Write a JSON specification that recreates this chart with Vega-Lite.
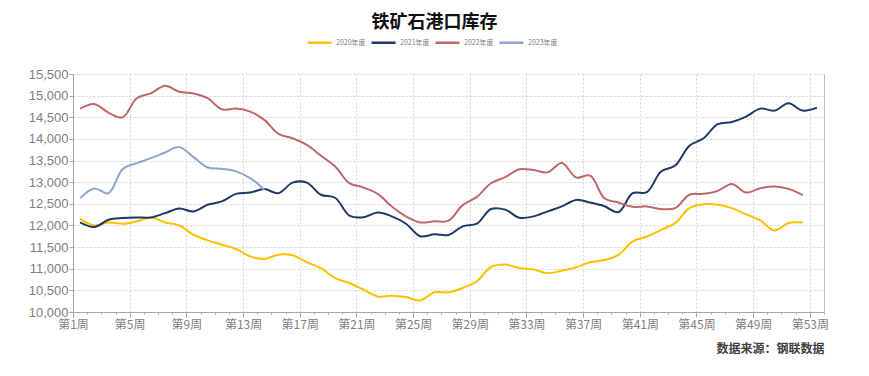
{
  "$schema": "https://vega.github.io/schema/vega-lite/v6.json",
  "width": 751,
  "height": 238,
  "autosize": {"type": "none"},
  "padding": {"left": 73, "top": 74, "right": 45, "bottom": 64},
  "background": "white",
  "title": {"text": "铁矿石港口库存", "font": "Noto Sans CJK SC", "fontSize": 18, "fontWeight": "bold", "color": "#111111", "anchor": "middle", "dx": -14, "offset": -3},
  "datasets": {
    "inv": [
      {"week":1,"series":"2020年度","value":12150},{"week":2,"series":"2020年度","value":12000},{"week":3,"series":"2020年度","value":12070},{"week":4,"series":"2020年度","value":12040},{"week":5,"series":"2020年度","value":12095},{"week":6,"series":"2020年度","value":12185},{"week":7,"series":"2020年度","value":12070},{"week":8,"series":"2020年度","value":12000},{"week":9,"series":"2020年度","value":11785},{"week":10,"series":"2020年度","value":11655},{"week":11,"series":"2020年度","value":11555},{"week":12,"series":"2020年度","value":11455},{"week":13,"series":"2020年度","value":11285},{"week":14,"series":"2020年度","value":11225},{"week":15,"series":"2020年度","value":11325},{"week":16,"series":"2020年度","value":11310},{"week":17,"series":"2020年度","value":11150},{"week":18,"series":"2020年度","value":11010},{"week":19,"series":"2020年度","value":10785},{"week":20,"series":"2020年度","value":10670},{"week":21,"series":"2020年度","value":10515},{"week":22,"series":"2020年度","value":10360},{"week":23,"series":"2020年度","value":10375},{"week":24,"series":"2020年度","value":10345},{"week":25,"series":"2020年度","value":10265},{"week":26,"series":"2020年度","value":10455},{"week":27,"series":"2020年度","value":10455},{"week":28,"series":"2020年度","value":10555},{"week":29,"series":"2020年度","value":10710},{"week":30,"series":"2020年度","value":11040},{"week":31,"series":"2020年度","value":11095},{"week":32,"series":"2020年度","value":11015},{"week":33,"series":"2020年度","value":10980},{"week":34,"series":"2020年度","value":10895},{"week":35,"series":"2020年度","value":10960},{"week":36,"series":"2020年度","value":11030},{"week":37,"series":"2020年度","value":11150},{"week":38,"series":"2020年度","value":11200},{"week":39,"series":"2020年度","value":11320},{"week":40,"series":"2020年度","value":11630},{"week":41,"series":"2020年度","value":11745},{"week":42,"series":"2020年度","value":11900},{"week":43,"series":"2020年度","value":12055},{"week":44,"series":"2020年度","value":12400},{"week":45,"series":"2020年度","value":12490},{"week":46,"series":"2020年度","value":12480},{"week":47,"series":"2020年度","value":12400},{"week":48,"series":"2020年度","value":12255},{"week":49,"series":"2020年度","value":12115},{"week":50,"series":"2020年度","value":11885},{"week":51,"series":"2020年度","value":12055},{"week":52,"series":"2020年度","value":12070},
      {"week":1,"series":"2021年度","value":12070},{"week":2,"series":"2021年度","value":11963},{"week":3,"series":"2021年度","value":12130},{"week":4,"series":"2021年度","value":12170},{"week":5,"series":"2021年度","value":12185},{"week":6,"series":"2021年度","value":12185},{"week":7,"series":"2021年度","value":12285},{"week":8,"series":"2021年度","value":12393},{"week":9,"series":"2021年度","value":12325},{"week":10,"series":"2021年度","value":12478},{"week":11,"series":"2021年度","value":12555},{"week":12,"series":"2021年度","value":12730},{"week":13,"series":"2021年度","value":12760},{"week":14,"series":"2021年度","value":12840},{"week":15,"series":"2021年度","value":12745},{"week":16,"series":"2021年度","value":12990},{"week":17,"series":"2021年度","value":12990},{"week":18,"series":"2021年度","value":12710},{"week":19,"series":"2021年度","value":12640},{"week":20,"series":"2021年度","value":12230},{"week":21,"series":"2021年度","value":12190},{"week":22,"series":"2021年度","value":12300},{"week":23,"series":"2021年度","value":12210},{"week":24,"series":"2021年度","value":12040},{"week":25,"series":"2021年度","value":11750},{"week":26,"series":"2021年度","value":11795},{"week":27,"series":"2021年度","value":11780},{"week":28,"series":"2021年度","value":11980},{"week":29,"series":"2021年度","value":12040},{"week":30,"series":"2021年度","value":12380},{"week":31,"series":"2021年度","value":12365},{"week":32,"series":"2021年度","value":12180},{"week":33,"series":"2021年度","value":12210},{"week":34,"series":"2021年度","value":12325},{"week":35,"series":"2021年度","value":12440},{"week":36,"series":"2021年度","value":12590},{"week":37,"series":"2021年度","value":12530},{"week":38,"series":"2021年度","value":12445},{"week":39,"series":"2021年度","value":12310},{"week":40,"series":"2021年度","value":12745},{"week":41,"series":"2021年度","value":12770},{"week":42,"series":"2021年度","value":13245},{"week":43,"series":"2021年度","value":13385},{"week":44,"series":"2021年度","value":13840},{"week":45,"series":"2021年度","value":14015},{"week":46,"series":"2021年度","value":14340},{"week":47,"series":"2021年度","value":14390},{"week":48,"series":"2021年度","value":14515},{"week":49,"series":"2021年度","value":14700},{"week":50,"series":"2021年度","value":14654},{"week":51,"series":"2021年度","value":14823},{"week":52,"series":"2021年度","value":14654},{"week":53,"series":"2021年度","value":14723},
      {"week":1,"series":"2022年度","value":14700},{"week":2,"series":"2022年度","value":14808},{"week":3,"series":"2022年度","value":14608},{"week":4,"series":"2022年度","value":14500},{"week":5,"series":"2022年度","value":14940},{"week":6,"series":"2022年度","value":15054},{"week":7,"series":"2022年度","value":15230},{"week":8,"series":"2022年度","value":15090},{"week":9,"series":"2022年度","value":15050},{"week":10,"series":"2022年度","value":14940},{"week":11,"series":"2022年度","value":14685},{"week":12,"series":"2022年度","value":14700},{"week":13,"series":"2022年度","value":14630},{"week":14,"series":"2022年度","value":14440},{"week":15,"series":"2022年度","value":14115},{"week":16,"series":"2022年度","value":14015},{"week":17,"series":"2022年度","value":13860},{"week":18,"series":"2022年度","value":13610},{"week":19,"series":"2022年度","value":13362},{"week":20,"series":"2022年度","value":12977},{"week":21,"series":"2022年度","value":12877},{"week":22,"series":"2022年度","value":12730},{"week":23,"series":"2022年度","value":12440},{"week":24,"series":"2022年度","value":12210},{"week":25,"series":"2022年度","value":12070},{"week":26,"series":"2022年度","value":12095},{"week":27,"series":"2022年度","value":12110},{"week":28,"series":"2022年度","value":12470},{"week":29,"series":"2022年度","value":12660},{"week":30,"series":"2022年度","value":12975},{"week":31,"series":"2022年度","value":13115},{"week":32,"series":"2022年度","value":13300},{"week":33,"series":"2022年度","value":13280},{"week":34,"series":"2022年度","value":13230},{"week":35,"series":"2022年度","value":13445},{"week":36,"series":"2022年度","value":13110},{"week":37,"series":"2022年度","value":13150},{"week":38,"series":"2022年度","value":12630},{"week":39,"series":"2022年度","value":12530},{"week":40,"series":"2022年度","value":12430},{"week":41,"series":"2022年度","value":12440},{"week":42,"series":"2022年度","value":12380},{"week":43,"series":"2022年度","value":12400},{"week":44,"series":"2022年度","value":12710},{"week":45,"series":"2022年度","value":12730},{"week":46,"series":"2022年度","value":12800},{"week":47,"series":"2022年度","value":12960},{"week":48,"series":"2022年度","value":12760},{"week":49,"series":"2022年度","value":12860},{"week":50,"series":"2022年度","value":12900},{"week":51,"series":"2022年度","value":12845},{"week":52,"series":"2022年度","value":12700},
      {"week":1,"series":"2023年度","value":12632},{"week":2,"series":"2023年度","value":12855},{"week":3,"series":"2023年度","value":12745},{"week":4,"series":"2023年度","value":13300},{"week":5,"series":"2023年度","value":13440},{"week":6,"series":"2023年度","value":13555},{"week":7,"series":"2023年度","value":13685},{"week":8,"series":"2023年度","value":13810},{"week":9,"series":"2023年度","value":13580},{"week":10,"series":"2023年度","value":13340},{"week":11,"series":"2023年度","value":13310},{"week":12,"series":"2023年度","value":13250},{"week":13,"series":"2023年度","value":13095},{"week":14,"series":"2023年度","value":12825}
    ]
  },
  "data": {"name": "inv"},
  "encoding": {
    "x": {
      "field": "week",
      "type": "quantitative",
      "scale": {"domain": [0.5, 53.5], "nice": false, "zero": false},
      "axis": {
        "values": [0.5,1.5,2.5,3.5,4.5,5.5,6.5,7.5,8.5,9.5,10.5,11.5,12.5,13.5,14.5,15.5,16.5,17.5,18.5,19.5,20.5,21.5,22.5,23.5,24.5,25.5,26.5,27.5,28.5,29.5,30.5,31.5,32.5,33.5,34.5,35.5,36.5,37.5,38.5,39.5,40.5,41.5,42.5,43.5,44.5,45.5,46.5,47.5,48.5,49.5,50.5,51.5,52.5,53.5],
        "labelExpr": "(datum.value - 0.5) % 4 === 0 && datum.value < 53 ? '第' + (datum.value + 0.5) + '周' : ''",
        "labelDx": 7,
        "labelOverlap": false,
        "labelFlush": false,
        "labelBound": false,
        "labelFont": "Noto Sans CJK SC",
        "labelFontSize": 12,
        "labelColor": "#808080",
        "labelPadding": 2,
        "tickSize": {"condition": {"test": "(datum.value - 0.5) % 4 === 0", "value": 5}, "value": 2},
        "tickColor": "#a6a6a6",
        "domainColor": "#a6a6a6",
        "grid": true,
        "gridOpacity": {"condition": {"test": "(datum.value - 0.5) % 4 === 0 && datum.value > 1", "value": 1}, "value": 0},
        "gridColor": "#d4d4d4",
        "gridDash": [2, 2],
        "title": "数据来源：钢联数据",
        "titleFont": "Noto Sans CJK SC",
        "titleFontSize": 12,
        "titleFontWeight": "bold",
        "titleColor": "#404040",
        "titleAnchor": "end",
        "titleAlign": "right",
        "titleDx": 5,
        "titlePadding": 13
      }
    }
  },
  "layer": [
    {
      "mark": {"type": "line", "interpolate": "catmull-rom", "strokeWidth": 2},
      "encoding": {
        "y": {
          "field": "value",
          "type": "quantitative",
          "scale": {"domain": [10000, 15500], "nice": false, "zero": false},
          "axis": {
            "values": [10000,10500,11000,11500,12000,12500,13000,13500,14000,14500,15000,15500],
            "format": ",.0f",
            "title": null,
            "labelFont": "Liberation Sans",
            "labelFontSize": 13,
            "labelColor": "#808080",
            "labelPadding": 1,
            "tickSize": 4,
            "tickColor": "#a6a6a6",
            "domainColor": "#a6a6a6",
            "grid": true,
            "gridColor": "#d4d4d4",
            "gridDash": [2, 2]
          }
        },
        "color": {
          "field": "series",
          "type": "nominal",
          "scale": {"domain": ["2020年度", "2021年度", "2022年度", "2023年度"], "range": ["#FFC000", "#1F3864", "#C0676A", "#8EA5CC"]},
          "legend": {
            "title": null,
            "orient": "none",
            "direction": "horizontal",
            "legendX": 233,
            "legendY": -45,
            "symbolType": "stroke",
            "symbolSize": 576,
            "symbolStrokeWidth": 2.5,
            "labelFont": "Noto Sans CJK SC",
            "labelFontSize": 7,
            "labelColor": "#808080",
            "labelOffset": 3,
            "columnPadding": 0
          }
        },
        "order": {"field": "week", "type": "quantitative"}
      }
    },
    {
      "mark": {"type": "point", "opacity": 0},
      "encoding": {
        "y": {
          "field": "value",
          "type": "quantitative",
          "axis": {"orient": "right", "labels": false, "ticks": false, "grid": false, "title": null, "domainColor": "#bfbfbf"}
        }
      }
    }
  ],
  "resolve": {"axis": {"y": "independent"}},
  "config": {"view": {"stroke": null}}
}
